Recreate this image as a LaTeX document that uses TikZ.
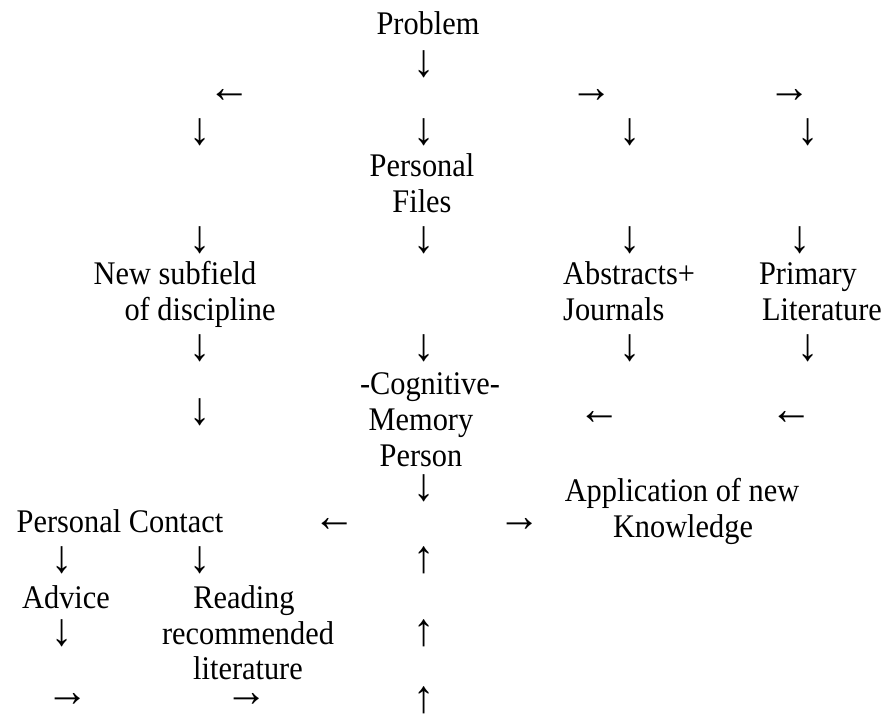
\documentclass[tikz,border=0pt]{standalone}
\usepackage{fontspec}
\setmainfont{Liberation Serif}[FakeStretch=0.92]
\begin{document}
\begin{tikzpicture}[x=1pt,y=-1pt,
  t/.style={inner sep=0pt, anchor=base, font=\fontsize{33}{36}\selectfont},
  tl/.style={t, anchor=base west},
  ar/.style={inner sep=0pt, anchor=center, font=\fontsize{46}{46}\selectfont}]
\useasboundingbox (0,0) rectangle (886,715);
% texts (positions are baselines)
\node[t] (problem) at (428,34) {Problem};
\node[t] (pf1) at (422,176) {Personal};
\node[t] (pf2) at (422,212) {Files};
\node[t] (ns1) at (175,284) {New subfield};
\node[t] (ns2) at (200,320) {of discipline};
\node[tl] (aj1) at (563,284) {Abstracts+};
\node[tl] (aj2) at (563,320) {Journals};
\node[t] (pl1) at (808,284) {Primary};
\node[t] (pl2) at (822,320) {Literature};
\node[t] (cm1) at (430,394) {-Cognitive-};
\node[t] (cm2) at (421,430) {Memory};
\node[t] (cm3) at (421,466) {Person};
\node[t] (ap1) at (682,501) {Application of new};
\node[t] (ap2) at (683,537) {Knowledge};
\node[t] (pc) at (120,532) {Personal Contact};
\node[t] (adv) at (66,608) {Advice};
\node[t] (rd1) at (244,608) {Reading};
\node[t] (rd2) at (248,644) {recommended};
\node[t] (rd3) at (248,679) {literature};
% arrow glyphs
\node[ar] (a1) at (424,64) {↓};
\node[ar] (a2) at (230,96) {←};
\node[ar] (a3) at (592,96) {→};
\node[ar] (a4) at (790,96) {→};
\node[ar] (b1) at (200,132) {↓};
\node[ar] (b2) at (424,132) {↓};
\node[ar] (b3) at (630,132) {↓};
\node[ar] (b4) at (808,132) {↓};
\node[ar] (c1) at (200,240) {↓};
\node[ar] (c2) at (424,240) {↓};
\node[ar] (c3) at (630,240) {↓};
\node[ar] (c4) at (800,240) {↓};
\node[ar] (d1) at (200,348) {↓};
\node[ar] (d2) at (424,348) {↓};
\node[ar] (d3) at (630,348) {↓};
\node[ar] (d4) at (808,348) {↓};
\node[ar] (e1) at (200,412) {↓};
\node[ar] (e2) at (600,418) {←};
\node[ar] (e3) at (792,418) {←};
\node[ar] (f1) at (424,488) {↓};
\node[ar] (g1) at (335,525) {←};
\node[ar] (g2) at (520,525) {→};
\node[ar] (h1) at (62,560) {↓};
\node[ar] (h2) at (200,560) {↓};
\node[ar] (h3) at (424,560) {↑};
\node[ar] (i1) at (62,633) {↓};
\node[ar] (i2) at (424,633) {↑};
\node[ar] (j1) at (68,700) {→};
\node[ar] (j2) at (247,700) {→};
\node[ar] (j3) at (424,700) {↑};
\end{tikzpicture}
\end{document}
